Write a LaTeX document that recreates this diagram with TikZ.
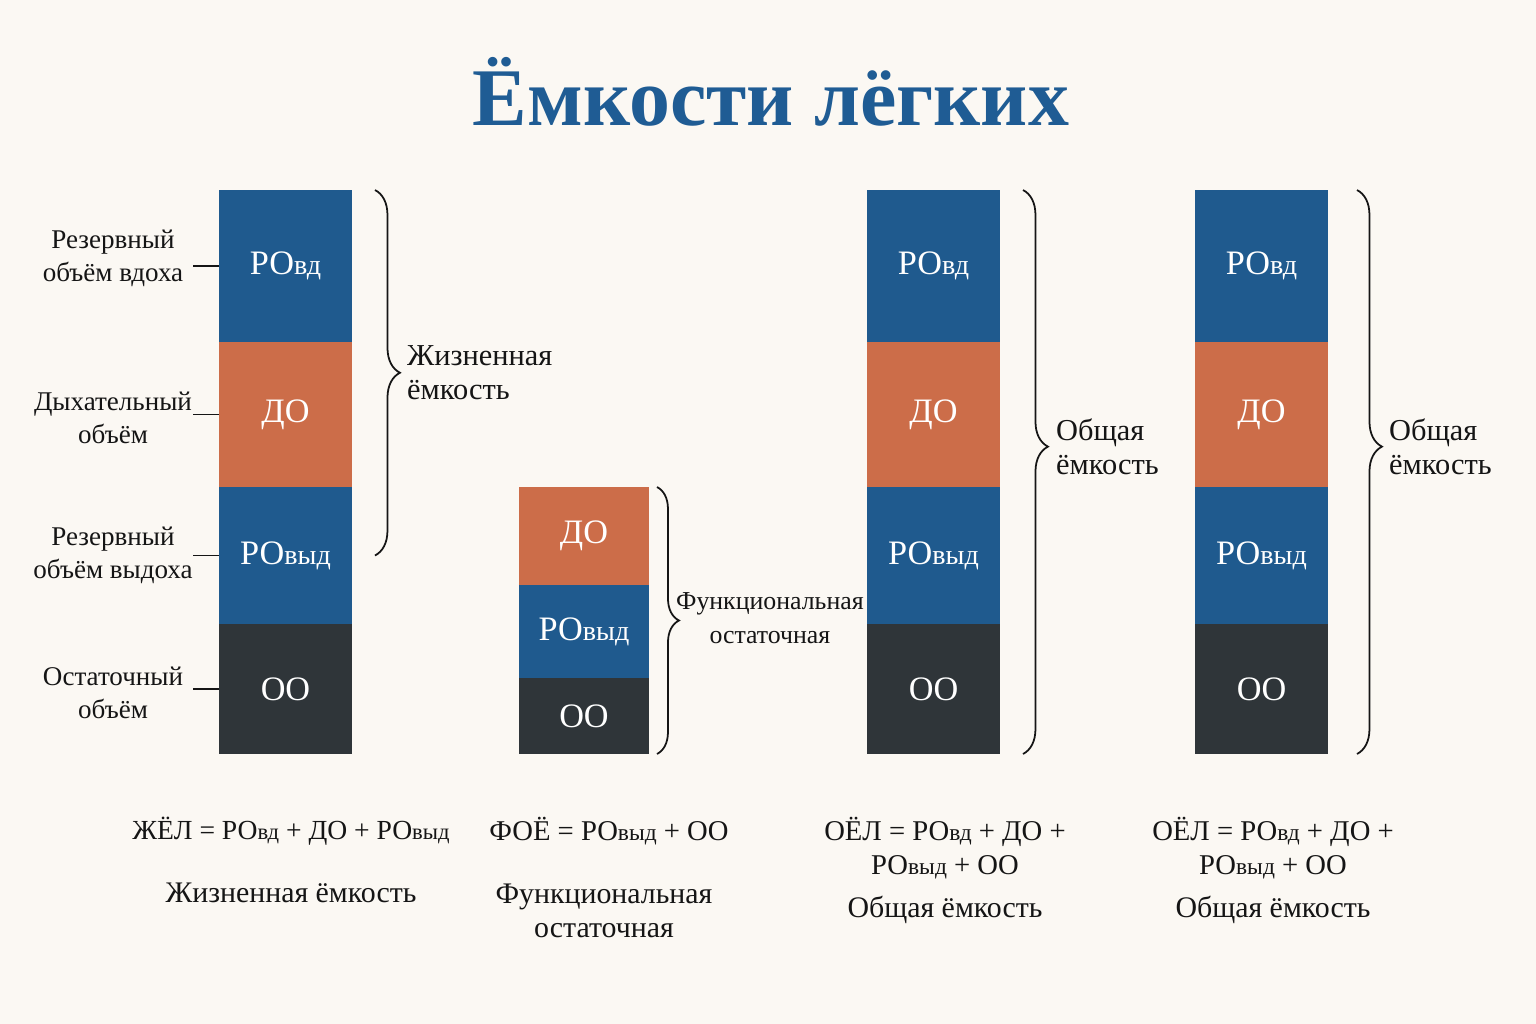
\documentclass[tikz,border=0pt]{standalone}
\usepackage{fontspec}
\setmainfont{Liberation Serif}
\usetikzlibrary{decorations.pathreplacing, positioning}

\definecolor{paper}{HTML}{FBF8F3}
\definecolor{titleblue}{HTML}{1F5C94}
\definecolor{volblue}{HTML}{1F5A8E}
\definecolor{volorange}{HTML}{CC6D49}
\definecolor{voldark}{HTML}{2F3539}
\definecolor{ink}{HTML}{151515}
\newcommand{\idx}[1]{\scalebox{0.82}{#1}}

\begin{document}
\begin{tikzpicture}[x=0.02cm, y=-0.02cm,
                    seg/.style={minimum width=2.66cm, inner sep=0pt, outer sep=0pt,
                                text=white, font=\fontsize{19.5}{22}\selectfont},
                    lbl/.style={align=center, text=ink, inner sep=1pt,
                                font=\fontsize{15.4}{18.8}\selectfont},
                    brlbl/.style={lbl, anchor=west, font=\fontsize{17.3}{19.4}\selectfont},
                    frm/.style={lbl, font=\fontsize{16.3}{19.4}\selectfont},
                    nme/.style={lbl, font=\fontsize{17}{19.4}\selectfont},
                    brc/.style={decorate, decoration={brace, amplitude=0.5cm}, line width=1pt, ink},
                    tick/.style={line width=1pt, ink}]

\fill[paper] (0,0) rectangle (1536,1024);
\useasboundingbox (0,0) rectangle (1536,1024);

\node[text=titleblue, font=\fontsize{46.6}{50}\selectfont\bfseries] (title) at (771,92) {Ёмкости лёгких};

% vital capacity
\node[seg, fill=volblue,   minimum height=3.04cm] (a1) at (285.5,266)   {РО\idx{вд}};
\node[seg, fill=volorange, minimum height=2.9cm]  (a2) at (285.5,414.5) {ДО};
\node[seg, fill=volblue,   minimum height=2.74cm] (a3) at (285.5,555.5) {РО\idx{выд}};
\node[seg, fill=voldark,   minimum height=2.6cm]  (a4) at (285.5,689)   {ОО};

\node[lbl] (l1) at (113,258) {Резервный\\объём вдоха};
\node[lbl] (l2) at (113,418) {Дыхательный\\объём};
\node[lbl] (l3) at (113,555) {Резервный\\объём выдоха};
\node[lbl] (l4) at (113,693) {Остаточный\\объём};
\draw[tick] (a1.west) -- ++(-26,0);
\draw[tick] (a2.west) -- ++(-26,0);
\draw[tick] (a3.west) -- ++(-26,0);
\draw[tick] (a4.west) -- ++(-26,0);

\draw[brc] ([xshift=0.46cm]a1.north east) -- ([xshift=0.46cm]a3.east);
\node[brlbl, align=left] (v1) at (405,373) {Жизненная\\ёмкость};

% functional residual capacity
\node[seg, fill=volorange, minimum width=2.6cm, minimum height=1.96cm] (b1) at (584,536)   {ДО};
\node[seg, fill=volblue,   minimum width=2.6cm, minimum height=1.86cm] (b2) at (584,631.5) {РО\idx{выд}};
\node[seg, fill=voldark,   minimum width=2.6cm, minimum height=1.52cm] (b3) at (584,716)   {ОО};

\draw[brc, decoration={amplitude=0.44cm}] ([xshift=0.16cm]b1.north east) -- ([xshift=0.16cm]b3.south east);
\node[brlbl, font=\fontsize{14.7}{19.4}\selectfont] (v2) at (674,618) {Функциональная\\остаточная};

% total capacity
\node[seg, fill=volblue,   minimum height=3.04cm] (c1) at (933.5,266)   {РО\idx{вд}};
\node[seg, fill=volorange, minimum height=2.9cm]  (c2) at (933.5,414.5) {ДО};
\node[seg, fill=volblue,   minimum height=2.74cm] (c3) at (933.5,555.5) {РО\idx{выд}};
\node[seg, fill=voldark,   minimum height=2.6cm]  (c4) at (933.5,689)   {ОО};

\draw[brc, decoration={aspect=0.455}] ([xshift=0.46cm]c1.north east) -- ([xshift=0.46cm]c4.south east);
\node[brlbl, align=left] (v3) at (1054,447) {Общая\\ёмкость};

\node[seg, fill=volblue,   minimum height=3.04cm] (d1) at (1261.5,266)   {РО\idx{вд}};
\node[seg, fill=volorange, minimum height=2.9cm]  (d2) at (1261.5,414.5) {ДО};
\node[seg, fill=volblue,   minimum height=2.74cm] (d3) at (1261.5,555.5) {РО\idx{выд}};
\node[seg, fill=voldark,   minimum height=2.6cm]  (d4) at (1261.5,689)   {ОО};

\draw[brc, decoration={aspect=0.455}] ([xshift=0.58cm]d1.north east) -- ([xshift=0.58cm]d4.south east);
\node[brlbl, align=left] (v4) at (1387,447) {Общая\\ёмкость};

% formulas
\node[frm, font=\fontsize{15.7}{19.4}\selectfont] (f1) at (291,831) {ЖЁЛ = РО\idx{вд} + ДО + РО\idx{выд}};
\node[nme] (n1) at (291,893) {Жизненная ёмкость};
\node[frm] (f2) at (609,831) {ФОЁ = РО\idx{выд} + ОО};
\node[nme] (n2) at (604,911) {Функциональная\\остаточная};
\node[frm] (f3) at (945,848) {ОЁЛ = РО\idx{вд} + ДО +\\РО\idx{выд} + ОО};
\node[nme] (n3) at (945,910) {Общая ёмкость};
\node[frm] (f4) at (1273,848) {ОЁЛ = РО\idx{вд} + ДО +\\РО\idx{выд} + ОО};
\node[nme] (n4) at (1273,910) {Общая ёмкость};
\end{tikzpicture}
\end{document}
